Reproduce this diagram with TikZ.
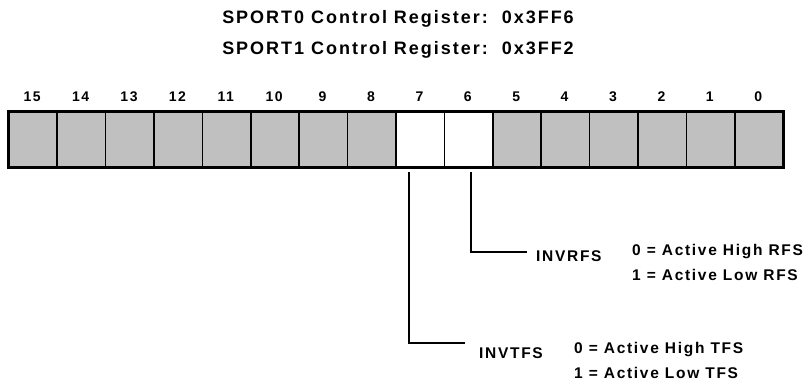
\documentclass[tikz,border=0pt]{standalone}
\usepackage{fontspec}
\setmainfont{Liberation Sans}[LetterSpace=11]
\begin{document}
\begin{tikzpicture}[x=1pt,y=-1pt,
  cellbox/.style={draw=black,line width=1.5pt,minimum width=48.4pt,minimum height=55pt,inner sep=0pt,anchor=north west},
  grayc/.style={cellbox,fill=regGray},
  whitec/.style={cellbox,fill=white},
  bitnum/.style={font=\bfseries\fontsize{14}{16}\selectfont,inner sep=0pt},
  lab/.style={font=\bfseries\fontsize{15.5}{17}\selectfont,inner sep=0pt,anchor=west},
  ttl/.style={font=\bfseries\fontsize{18}{20}\selectfont,inner sep=0pt},
  conn/.style={draw=black,line width=1.8pt}]
\definecolor{regGray}{HTML}{C0C0C0}
\useasboundingbox (0,0) rectangle (809,383);
\node[ttl] (t1) at (398,19) {SPORT0 Control Register:\ \ 0x3FF6};
\node[ttl] (t2) at (398,50) {SPORT1 Control Register:\ \ 0x3FF2};
\foreach \b in {0,...,15} {
  \pgfmathsetmacro{\xx}{8+(15-\b)*48.4}
  \ifnum\b=7 \def\sty{whitec}\else\ifnum\b=6 \def\sty{whitec}\else\def\sty{grayc}\fi\fi
  \node[\sty] (c\b) at (\xx,111) {};
  \node[bitnum] (n\b) at (\xx+24.2,97) {\b};
}
\draw[black,line width=2.2pt] (c15.north west) rectangle (c0.south east);
\draw[black,line width=3pt] (c15.south west) -- (c0.south east);
\coordinate (s7) at (409,172);
\coordinate (s6) at (471,172);
\coordinate (e7) at (465,343);
\coordinate (e6) at (527,252);
\draw[conn] (s7) |- (e7);
\draw[conn] (s6) |- (e6);
\node[lab] (invrfs) at (536,256) {INVRFS};
\node[lab] (r0) at (632,252) {0 = Active High RFS};
\node[lab] (r1) at (632,275) {1 = Active Low RFS};
\node[lab] (invtfs) at (479,353) {INVTFS};
\node[lab] (t0) at (574,350) {0 = Active High TFS};
\node[lab] (t1b) at (574,373) {1 = Active Low TFS};
\end{tikzpicture}
\end{document}
